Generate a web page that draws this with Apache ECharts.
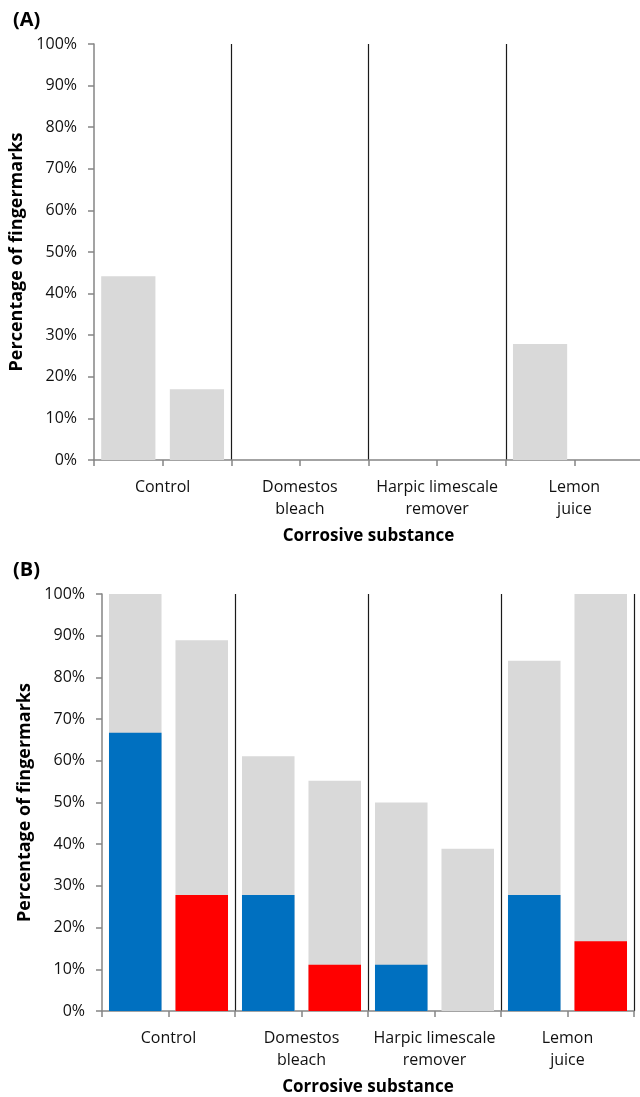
<!DOCTYPE html>
<html>
<head>
<meta charset="utf-8">
<style>
  html, body { margin: 0; padding: 0; background: #fff; }
  #chart { width: 640px; height: 1097px; }
</style>
<script src="https://cdn.jsdelivr.net/npm/echarts@6/dist/echarts.min.js"></script>
</head>
<body>
<div id="chart"></div>
<script>
// Substances tested; each one has two bars side by side.
const substances = ['Control', 'Domestos\nbleach', 'Harpic limescale\nremover', 'Lemon\njuice'];
const yTicks = [0, 10, 20, 30, 40, 50, 60, 70, 80, 90, 100];

// (A) percentage of fingermarks, two bars per substance
const panelAValues = [44.2, 17, 0, 0, 0, 0, 27.9, 0];

// (B) total percentage per bar and the highlighted part of each bar
const panelBTotals = [100, 88.9, 61.1, 55.2, 50, 38.9, 84, 100];
const panelBHighlighted = [66.7, 27.8, 27.8, 11.1, 11.1, 0, 27.8, 16.7];

// two slots per substance on the bar axis
const slots = [];
substances.forEach(function (s, i) { slots.push('s' + i + 'a', 's' + i + 'b'); });

const FONT = 'Open Sans';
const GREY = '#d9d9d9';
const AXIS_GREY = '#858585';

function grid(idx) {
  // panel A runs slightly past the right edge of the page
  return idx === 0
    ? { left: 94, width: 549, top: 44, height: 416, outerBoundsMode: 'none', containLabel: false }
    : { left: 102, width: 532, top: 594, height: 417, outerBoundsMode: 'none', containLabel: false };
}

function barAxis(gridIndex) {
  return {
    type: 'category', gridIndex: gridIndex, data: slots, position: 'bottom',
    axisLine: { lineStyle: { color: AXIS_GREY, width: 1.5 } },
    axisTick: { show: true, interval: 0, length: 6, lineStyle: { color: AXIS_GREY, width: 1.5 } },
    axisLabel: { show: false },
    splitLine: { show: false }
  };
}

function groupAxis(gridIndex) {
  return {
    type: 'category', gridIndex: gridIndex, data: substances, position: 'bottom',
    axisLine: { show: false },
    axisTick: { show: false },
    axisLabel: {
      interval: 0, margin: 16, fontFamily: FONT, fontSize: 16, lineHeight: 22, color: '#111'
    },
    // separators between substances (and at the far right end)
    splitLine: {
      show: true,
      interval: function (index) { return index > 0; },
      lineStyle: { color: '#1a1a1a', width: 1.2 }
    },
    name: 'Corrosive substance', nameLocation: 'middle', nameGap: 68,
    nameTextStyle: { fontFamily: FONT, fontSize: 17, fontWeight: 'bold', color: '#000' }
  };
}

function valueAxis(gridIndex, nameGap) {
  return {
    type: 'value', gridIndex: gridIndex, min: yTicks[0], max: yTicks[yTicks.length - 1], interval: 10,
    axisLine: { show: true, lineStyle: { color: AXIS_GREY, width: 1.5 } },
    axisTick: { show: true, length: 6, lineStyle: { color: AXIS_GREY, width: 1.5 } },
    axisLabel: { formatter: '{value}%', margin: 17, fontFamily: FONT, fontSize: 16, color: '#111' },
    splitLine: { show: false },
    name: 'Percentage of fingermarks', nameLocation: 'middle', nameGap: nameGap, nameRotate: 90,
    nameTextStyle: { fontFamily: FONT, fontSize: 18, fontWeight: 'bold', color: '#000' }
  };
}

const chart = echarts.init(document.getElementById('chart'), null, { renderer: 'canvas' });

chart.setOption({
  animation: false,
  backgroundColor: '#fff',
  title: [
    { text: '(A)', left: 13, top: 10, padding: 0, textStyle: { fontFamily: FONT, fontSize: 20, fontWeight: 'bold', color: '#000' } },
    { text: '(B)', left: 13, top: 560, padding: 0, textStyle: { fontFamily: FONT, fontSize: 20, fontWeight: 'bold', color: '#000' } }
  ],
  grid: [grid(0), grid(1)],
  xAxis: [barAxis(0), groupAxis(0), barAxis(1), groupAxis(1)],
  yAxis: [valueAxis(0, 65), valueAxis(1, 63)],
  series: [
    {
      type: 'bar', xAxisIndex: 0, yAxisIndex: 0, data: panelAValues,
      barCategoryGap: '21%',
      itemStyle: { color: GREY }
    },
    {
      type: 'bar', xAxisIndex: 2, yAxisIndex: 1, data: panelBTotals,
      barCategoryGap: '21%', barGap: '-100%',
      itemStyle: { color: GREY }
    },
    {
      type: 'bar', xAxisIndex: 2, yAxisIndex: 1, data: panelBHighlighted,
      barCategoryGap: '21%', barGap: '-100%',
      itemStyle: {
        color: function (p) { return p.dataIndex % 2 === 0 ? '#0070c0' : '#ff0000'; }
      }
    }
  ]
});
</script>
</body>
</html>
